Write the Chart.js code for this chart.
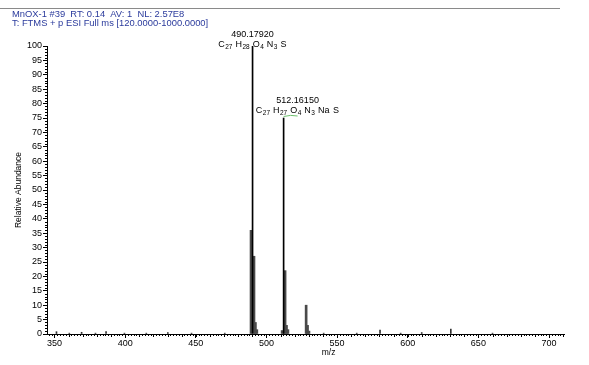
<!DOCTYPE html>
<html><head><meta charset="utf-8">
<script src="https://cdn.jsdelivr.net/npm/chart.js@4/dist/chart.umd.min.js"></script>
<style>html,body{margin:0;padding:0;background:#fff}</style>
</head><body>
<canvas id="c" width="589" height="365"></canvas>
<script>
// ---- data ----
const mainMz = [490.1792, 512.1615];
const mainAbund = [100, 75];
const mainLabels = ['490.17920', '512.16150'];
const mainFormulas = [
  [['C','27'],['H','28'],['O','4'],['N','3'],['S','']],
  [['C','27'],['H','27'],['O','4'],['N','3'],['Na',''],['S','']]
];
const isoMz    = [489.1, 491.2, 492.2, 493.2, 511.1, 513.2, 514.2, 515.2, 528.1, 529.1, 530.1];
const isoAbund = [36,    27,    4,     1.5,   1.2,   22,    3,     1.5,   10,    3,     1];
const minorMz    = [351.4, 360.5, 369.2, 379.0, 386.5, 399.5, 415.0, 430.2, 447.0, 470.5, 540.5, 563.9, 580.4, 595.0, 609.9, 630.5, 660.0];
const minorAbund = [0.8,   0.3,   0.6,   0.3,   0.8,   0.3,   0.3,   0.5,   0.3,   0.3,   0.3,   0.3,   1.4,   0.3,   0.5,   1.7,   0.3];
const xTickLabels = [350, 400, 450, 500, 550, 600, 650, 700];
const yTickLabels = [0,5,10,15,20,25,30,35,40,45,50,55,60,65,70,75,80,85,90,95,100];
const headerLines = ['MnOX-1 #39  RT: 0.14  AV: 1  NL: 2.57E8', 'T: FTMS + p ESI Full ms [120.0000-1000.0000]'];
const xTitle = 'm/z';
const yTitle = 'Relative Abundance';

const FONT = '"Liberation Sans", Arial, sans-serif';
const pts = (xs, ys) => xs.map((x, i) => ({x, y: ys[i]}));

const deco = {
  id: 'deco',
  afterDraw(chart) {
    const ctx = chart.ctx, xs = chart.scales.x, ys = chart.scales.y;
    ctx.save();
    // header rule
    ctx.strokeStyle = '#8a8a8a'; ctx.lineWidth = 1;
    ctx.beginPath(); ctx.moveTo(0, 8.5); ctx.lineTo(560, 8.5); ctx.stroke();
    // header text
    ctx.fillStyle = '#2a3a9c'; ctx.font = '9.4px ' + FONT; ctx.textBaseline = 'alphabetic'; ctx.textAlign = 'left';
    ctx.fillText(headerLines[0], 12, 16.5);
    ctx.fillText(headerLines[1], 12, 25.5);
    // minor ticks x
    ctx.strokeStyle = '#000'; ctx.lineWidth = 1;
    for (let v = 346; v <= 710; v += 2) {
      const px = Math.round(xs.getPixelForValue(v)) + 0.5;
      const len = (v % 10 === 0) ? 3 : 2;
      ctx.beginPath(); ctx.moveTo(px, ys.bottom); ctx.lineTo(px, ys.bottom + len); ctx.stroke();
    }
    // minor ticks y
    for (let v = 1; v < 100; v += 1) {
      if (v % 5 === 0) continue;
      const py = Math.round(ys.getPixelForValue(v)) + 0.5;
      ctx.beginPath(); ctx.moveTo(xs.left, py); ctx.lineTo(xs.left - 2, py); ctx.stroke();
    }
    // x title
    ctx.fillStyle = '#000'; ctx.font = '8.5px ' + FONT; ctx.textAlign = 'center';
    ctx.fillText(xTitle, xs.getPixelForValue(544), 355);
    // peak annotations
    const offs = [{dx: 0, dyN: -9, dyF: 1}, {dx: 14, dyN: -15, dyF: -5}];
    mainMz.forEach((m, i) => {
      const px = xs.getPixelForValue(m), py = ys.getPixelForValue(mainAbund[i]);
      const o = offs[i];
      const cx = px + o.dx;
      ctx.font = '9px ' + FONT; ctx.textAlign = 'center'; ctx.fillStyle = '#000';
      ctx.fillText(mainLabels[i], cx, py + o.dyN);
      // formula
      const big = '9px ' + FONT, small = '6.5px ' + FONT, gap = 3;
      const parts = mainFormulas[i];
      let w = 0;
      const widths = parts.map((p, k) => {
        ctx.font = big; const a = ctx.measureText(p[0]).width + 0.5;
        ctx.font = small; const b = p[1] ? ctx.measureText(p[1]).width : 0;
        const sp = k < parts.length - 1 ? gap : 0;
        return [a, b, sp];
      });
      widths.forEach(a => w += a[0] + a[1] + a[2]);
      let x = cx - w / 2;
      const by = py + o.dyF;
      ctx.textAlign = 'left';
      parts.forEach((p, k) => {
        ctx.font = big; ctx.fillText(p[0], x, by); x += widths[k][0];
        if (p[1]) { ctx.font = small; ctx.fillText(p[1], x, by + 2); x += widths[k][1]; }
        x += widths[k][2];
      });
      if (i === 1) {
        ctx.strokeStyle = '#6cc06c'; ctx.lineWidth = 1;
        ctx.beginPath(); ctx.moveTo(px, by + 3.5); ctx.quadraticCurveTo(px + 7, by + 1.5, px + 14, by + 3); ctx.stroke();
      }
    });
    ctx.restore();
  }
};

new Chart(document.getElementById('c'), {
  type: 'bar',
  data: {
    datasets: [
      {data: pts(mainMz, mainAbund), backgroundColor: '#000', barThickness: 1, grouped: false, order: 0},
      {data: pts(isoMz, isoAbund), backgroundColor: '#4a4a4a', barThickness: 2, grouped: false, order: 1},
      {data: pts(minorMz, minorAbund), backgroundColor: '#333', barThickness: 1, grouped: false, order: 2}
    ]
  },
  options: {
    responsive: false,
    animation: false,
    devicePixelRatio: 1,
    layout: {padding: {top: 46, right: 25, left: 0, bottom: 0}},
    plugins: {legend: {display: false}, tooltip: {enabled: false}},
    scales: {
      x: {
        type: 'linear', min: 344.7, max: 710.6, offset: false,
        afterBuildTicks: s => { s.ticks = xTickLabels.map(v => ({value: v})); },
        afterFit: s => { s.height = 31; },
        grid: {drawOnChartArea: false, tickLength: 4, color: '#000', offset: false},
        border: {color: '#000'},
        ticks: {font: {size: 9, family: FONT}, color: '#000', padding: 0, maxRotation: 0, autoSkip: false}
      },
      y: {
        min: 0, max: 100,
        afterBuildTicks: s => { s.ticks = yTickLabels.map(v => ({value: v})); },
        afterFit: s => { s.width = 47; },
        grid: {drawOnChartArea: false, tickLength: 4, color: '#000'},
        border: {color: '#000'},
        ticks: {font: {size: 9, family: FONT}, color: '#000', padding: 1, autoSkip: false},
        title: {display: true, text: yTitle, font: {size: 8.5, family: FONT}, color: '#000', padding: {top: 14, bottom: 0}}
      }
    }
  },
  plugins: [deco]
});
</script>
</body></html>
